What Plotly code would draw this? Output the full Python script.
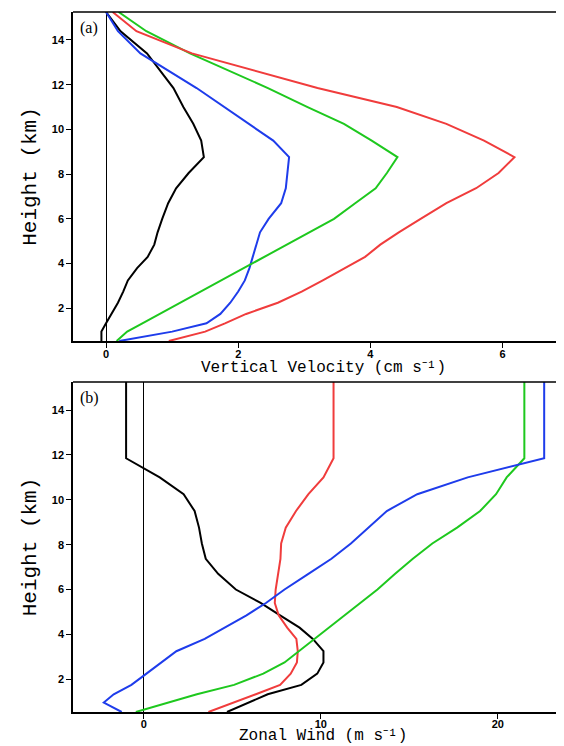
import plotly.graph_objects as go

# Common height levels (km)
heights = [0.54, 0.96, 1.33, 1.75, 2.25, 2.75, 3.25, 3.8, 4.3, 4.85, 5.4, 6.0,
           6.7, 7.37, 8.05, 8.76, 9.5, 10.25, 11.0, 11.85, 13.4, 14.39, 15.25]

# Panel (a): vertical velocity (cm s-1)
w_black = [-0.07, -0.07, 0.0, 0.08, 0.18, 0.26, 0.33, 0.47, 0.63, 0.73, 0.78, 0.85,
           0.94, 1.06, 1.25, 1.48, 1.44, 1.32, 1.17, 1.02, 0.62, 0.22, 0.0]
w_red = [0.95, 1.5, 1.8, 2.12, 2.6, 2.96, 3.28, 3.62, 3.92, 4.15, 4.43, 4.76,
         5.15, 5.6, 5.94, 6.18, 5.72, 5.15, 4.4, 3.2, 1.3, 0.46, 0.1]
w_green = [0.16, 0.32, 0.55, 0.81, 1.12, 1.43, 1.73, 2.07, 2.38, 2.72, 3.06, 3.45,
           3.77, 4.08, 4.25, 4.41, 4.02, 3.6, 3.05, 2.45, 1.27, 0.61, 0.19]
w_blue = [0.2, 1.0, 1.52, 1.73, 1.88, 2.0, 2.1, 2.17, 2.22, 2.27, 2.33, 2.46,
          2.65, 2.72, 2.74, 2.77, 2.53, 2.16, 1.8, 1.37, 0.52, 0.18, 0.0]

# Panel (b): zonal wind (m s-1)
u_black = [4.7, 5.9, 7.0, 8.9, 9.8, 10.15, 10.15, 9.55, 8.8, 7.7, 6.6, 5.2,
           4.2, 3.5, 3.28, 3.12, 2.87, 2.25, 0.9, -1.0, -1.0, -1.0, -1.0]
u_red = [3.65, 5.1, 6.33, 7.7, 8.3, 8.65, 8.7, 8.62, 8.1, 7.62, 7.4, 7.45,
         7.6, 7.72, 7.76, 8.02, 8.6, 9.3, 10.15, 10.72, 10.72, 10.72, 10.72]
u_green = [-0.45, 1.35, 3.0, 5.1, 6.75, 7.95, 8.75, 9.65, 10.45, 11.37, 12.2, 13.2,
           14.2, 15.2, 16.3, 17.7, 19.0, 19.9, 20.5, 21.5, 21.5, 21.5, 21.5]
u_blue = [-1.25, -2.26, -1.7, -0.7, 0.15, 0.98, 1.84, 3.44, 4.6, 5.8, 6.9, 7.95,
          9.3, 10.6, 11.7, 12.68, 13.73, 15.45, 18.3, 22.62, 22.62, 22.62, 22.62]

colors = {"black": "#000000", "red": "#f03c3c", "green": "#1ec81e", "blue": "#1e3ceb"}

fig = go.Figure()
for name, xs in [("black", w_black), ("blue", w_blue), ("green", w_green), ("red", w_red)]:
    fig.add_trace(go.Scatter(x=xs, y=heights, mode="lines", xaxis="x", yaxis="y",
                             line=dict(color=colors[name], width=2), showlegend=False))
for name, xs in [("black", u_black), ("red", u_red), ("green", u_green), ("blue", u_blue)]:
    fig.add_trace(go.Scatter(x=xs, y=heights, mode="lines", xaxis="x2", yaxis="y2",
                             line=dict(color=colors[name], width=2), showlegend=False))

tickfont = dict(family="Liberation Sans, Arial", size=11, color="black", weight="bold")
axis_common = dict(showline=True, linecolor="black", linewidth=1.5, ticks="outside",
                   ticklen=5, tickwidth=1, tickcolor="black", showgrid=False,
                   tickfont=tickfont, automargin=False)
title_font_x = dict(family="Liberation Mono, Courier New", size=16, color="black")
title_font_y = dict(family="Liberation Mono, Courier New", size=21, color="black")

fig.update_layout(
    width=556, height=738,
    margin=dict(l=65, r=0, t=4, b=34),
    paper_bgcolor="white", plot_bgcolor="white",
    xaxis=dict(domain=[0, 1], anchor="y", range=[-0.5, 6.93], dtick=2,
               zeroline=True, zerolinecolor="black", zerolinewidth=1,
               ticklabelstandoff=-3, **axis_common),
    yaxis=dict(domain=[0.53, 1.0], anchor="x", range=[0.54, 15.25], dtick=2,
               zeroline=False,
               title=dict(text="Height (km)", font=title_font_y, standoff=9),
               **axis_common),
    xaxis2=dict(domain=[0, 1], anchor="y2", range=[-4, 23.74], dtick=10,
                zeroline=True, zerolinecolor="black", zerolinewidth=1,
                ticklabelstandoff=-4, **axis_common),
    yaxis2=dict(domain=[0.0, 0.4714], anchor="x2", range=[0.54, 15.25], dtick=2,
                zeroline=False,
                title=dict(text="Height (km)", font=title_font_y, standoff=9),
                **axis_common),
)

# x-axis titles placed just under the tick labels
fig.add_annotation(text="Vertical Velocity (cm s⁻¹)", xref="x domain", yref="y domain",
                   x=0.51, y=0, yanchor="top", yshift=-17, showarrow=False,
                   borderpad=0, font=title_font_x)
fig.add_annotation(text="Zonal Wind (m s⁻¹)", xref="x2 domain", yref="paper",
                   x=0.51, y=0, yanchor="bottom", yshift=-34, showarrow=False,
                   borderpad=0, font=title_font_x)

# top frame lines
for yref in ["y domain", "y2 domain"]:
    xr = "x domain" if yref == "y domain" else "x2 domain"
    fig.add_shape(type="line", xref=xr, yref=yref, x0=0, x1=1, y0=1, y1=1,
                  line=dict(color="black", width=1.5))

label_font = dict(family="Liberation Serif, Times New Roman", size=16, color="black")
fig.add_annotation(text="(a)", xref="x domain", yref="y domain", x=0.01, y=0.985,
                   xanchor="left", yanchor="top", showarrow=False, font=label_font)
fig.add_annotation(text="(b)", xref="x2 domain", yref="y2 domain", x=0.01, y=0.985,
                   xanchor="left", yanchor="top", showarrow=False, font=label_font)

fig.write_html("out.html")
